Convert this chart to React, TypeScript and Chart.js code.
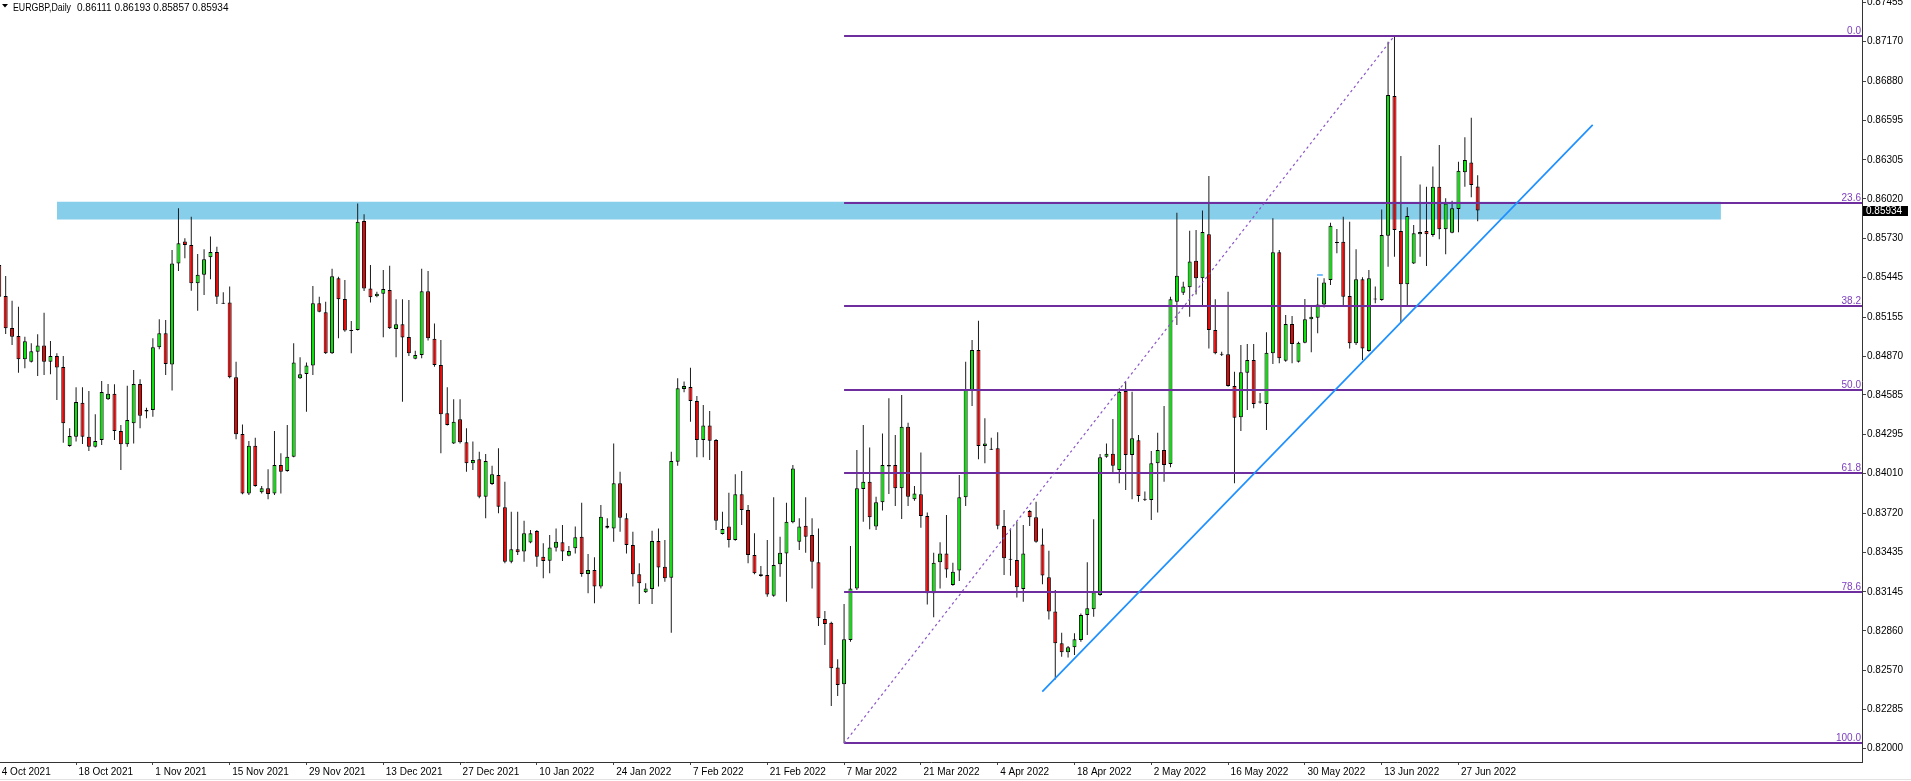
import React, { useEffect, useRef } from 'react';
import { Chart, registerables } from 'chart.js';

Chart.register(...registerables);

const FONT = "'Liberation Sans', Arial, sans-serif";

const symbolTitle = 'EURGBP,Daily';

// Daily bars (Sun..Fri sessions), index 0 = 4 Oct 2021
const opens = [
  0.85536,0.85309,0.85075,0.85017,0.84846,0.84829,0.84902,0.84948,0.84829,0.84870,
  0.84790,0.84212,0.84280,0.84529,0.84280,0.84207,0.84256,0.84553,0.84595,0.84322,
  0.84224,0.84378,0.84665,0.84465,0.84475,0.84934,0.85036,0.84809,0.85548,0.85709,
  0.85683,0.85402,0.85465,0.85592,0.85631,0.85258,0.85261,0.84714,0.84300,0.83865,
  0.84214,0.83873,0.83902,0.83865,0.84073,0.84029,0.84134,0.84707,0.84739,0.84800,
  0.85256,0.85190,0.84890,0.85439,0.85287,0.85058,0.85061,0.85858,0.85365,0.85307,
  0.85326,0.85353,0.85068,0.85102,0.85009,0.84851,0.84878,0.85344,0.84997,0.84805,
  0.84451,0.84231,0.84407,0.84239,0.84085,0.84114,0.83841,0.83934,0.84000,0.83763,
  0.83365,0.83456,0.83439,0.83505,0.83590,0.83402,0.83373,0.83468,0.83507,0.83409,
  0.83463,0.83548,0.83275,0.83305,0.83183,0.83629,0.83609,0.83939,0.83683,0.83487,
  0.83273,0.83141,0.83165,0.83517,0.83329,0.83248,0.84097,0.84629,0.84644,0.84541,
  0.84256,0.84361,0.84256,0.83568,0.83622,0.83524,0.83858,0.83744,0.83414,0.83261,
  0.83268,0.83117,0.83346,0.83426,0.83653,0.83512,0.83628,0.83561,0.83361,0.82946,
  0.82919,0.82592,0.82468,0.82792,0.83170,0.83897,0.83951,0.83622,0.83800,0.84073,
  0.84073,0.83902,0.84353,0.83822,0.83858,0.83700,0.83134,0.83361,0.83426,0.83195,
  0.83300,0.83836,0.84622,0.84914,0.84212,0.84185,0.84195,0.83626,0.83385,0.83378,
  0.83165,0.83736,0.83690,0.83492,0.83251,0.83000,0.82768,0.82702,0.82739,0.82792,
  0.82975,0.83017,0.83122,0.84134,0.84156,0.84036,0.84614,0.84146,0.84253,0.83824,
  0.83817,0.84085,0.84182,0.84080,0.85268,0.85334,0.85373,0.85568,0.85439,0.85761,
  0.85061,0.84885,0.84883,0.84651,0.84422,0.84748,0.84841,0.84537,0.84519,0.84890,
  0.85629,0.84836,0.85104,0.84829,0.84968,0.85139,0.85151,0.85248,0.85426,0.85702,
  0.85707,0.85309,0.84963,0.85431,0.84907,0.85283,0.85280,0.85751,0.86773,0.85785,
  0.85395,0.85548,0.85761,0.85785,0.85756,0.86109,0.85797,0.85773,0.85946,0.86214,
  0.86287,0.86111,
];

const highs = [
  0.85756,0.85456,0.85275,0.85231,0.85012,0.84963,0.85029,0.85187,0.84980,0.84890,
  0.84870,0.84341,0.84641,0.84641,0.84614,0.84444,0.84687,0.84665,0.84663,0.84365,
  0.84653,0.84768,0.84700,0.84492,0.85000,0.85139,0.85134,0.85646,0.85951,0.85731,
  0.85890,0.85617,0.85651,0.85744,0.85670,0.85336,0.85378,0.84829,0.84370,0.84248,
  0.84273,0.83919,0.84041,0.84322,0.84158,0.84365,0.84963,0.84861,0.84822,0.85383,
  0.85304,0.85268,0.85509,0.85451,0.85426,0.85126,0.85987,0.85907,0.85536,0.85341,
  0.85500,0.85531,0.85285,0.85285,0.85280,0.84909,0.85509,0.85492,0.85109,0.84987,
  0.84641,0.84553,0.84553,0.84341,0.84244,0.84170,0.84153,0.84068,0.84195,0.83951,
  0.83731,0.83731,0.83665,0.83597,0.83597,0.83500,0.83561,0.83609,0.83634,0.83480,
  0.83622,0.83797,0.83422,0.83397,0.83780,0.83683,0.84231,0.84024,0.83719,0.83585,
  0.83353,0.83207,0.83592,0.83609,0.83524,0.84170,0.84707,0.84683,0.84785,0.84578,
  0.84512,0.84468,0.84263,0.83731,0.83870,0.84005,0.84029,0.83780,0.83573,0.83334,
  0.83524,0.83836,0.83548,0.83797,0.84073,0.83683,0.83836,0.83683,0.83609,0.83004,
  0.82926,0.82651,0.83056,0.83480,0.84182,0.84365,0.84200,0.83841,0.84304,0.84561,
  0.84292,0.84585,0.84382,0.83919,0.84165,0.83726,0.83431,0.83507,0.83707,0.83358,
  0.84000,0.84829,0.84987,0.85129,0.84414,0.84273,0.84312,0.83743,0.83609,0.83658,
  0.83634,0.83743,0.83804,0.83609,0.83446,0.83158,0.82846,0.82748,0.82841,0.82987,
  0.83361,0.83675,0.84153,0.84231,0.84409,0.84634,0.84682,0.84609,0.84292,0.83878,
  0.84175,0.84309,0.84504,0.85304,0.85919,0.85414,0.85787,0.85792,0.85934,0.86187,
  0.85285,0.84902,0.85341,0.84755,0.84951,0.84958,0.84958,0.84600,0.85044,0.85878,
  0.85646,0.85170,0.85163,0.84975,0.85287,0.85236,0.85444,0.85439,0.85846,0.85800,
  0.85890,0.85853,0.85651,0.85446,0.85500,0.85378,0.85943,0.87170,0.87214,0.86334,
  0.85958,0.85829,0.86126,0.86109,0.86256,0.86414,0.86024,0.86007,0.86292,0.86470,
  0.86614,0.86193,
];

const lows = [
  0.85292,0.85031,0.84951,0.84748,0.84780,0.84822,0.84724,0.84731,0.84736,0.84548,
  0.84236,0.84207,0.84244,0.84226,0.84175,0.84200,0.84219,0.84548,0.84256,0.84036,
  0.84207,0.84231,0.84341,0.84414,0.84426,0.84919,0.84731,0.84617,0.85492,0.85585,
  0.85348,0.85202,0.85317,0.85431,0.85251,0.85251,0.84707,0.84261,0.83858,0.83853,
  0.83914,0.83865,0.83822,0.83853,0.83865,0.84024,0.84129,0.84702,0.84463,0.84731,
  0.85190,0.84885,0.84885,0.85000,0.85048,0.84890,0.85056,0.85346,0.85261,0.85300,
  0.85007,0.85068,0.84861,0.84536,0.84870,0.84846,0.84853,0.84983,0.84792,0.84158,
  0.84361,0.84226,0.84231,0.84024,0.84036,0.83829,0.83683,0.83926,0.83719,0.83353,
  0.83353,0.83414,0.83365,0.83500,0.83329,0.83244,0.83280,0.83439,0.83370,0.83405,
  0.83426,0.83256,0.83134,0.83061,0.83170,0.83609,0.83512,0.83585,0.83426,0.83183,
  0.83056,0.83136,0.83056,0.83183,0.83219,0.82846,0.84068,0.84605,0.84390,0.84129,
  0.84129,0.84109,0.83597,0.83565,0.83470,0.83519,0.83634,0.83353,0.83273,0.83256,
  0.83109,0.83109,0.83256,0.83073,0.83646,0.83451,0.83430,0.83170,0.82895,0.82756,
  0.82309,0.82383,0.82036,0.82780,0.83158,0.83658,0.83602,0.83597,0.83739,0.83861,
  0.83773,0.83678,0.83773,0.83812,0.83614,0.83053,0.82958,0.83170,0.83248,0.83190,
  0.83224,0.83773,0.84504,0.84114,0.84085,0.84182,0.83602,0.83268,0.83263,0.83104,
  0.83073,0.83626,0.83504,0.83200,0.82943,0.82504,0.82670,0.82665,0.82683,0.82780,
  0.82829,0.82963,0.83117,0.84126,0.84017,0.83939,0.83890,0.83822,0.83804,0.83809,
  0.83670,0.83726,0.83951,0.84056,0.85097,0.85317,0.85158,0.85320,0.85244,0.84926,
  0.84883,0.84870,0.84646,0.83939,0.84322,0.84475,0.84488,0.84523,0.84329,0.84812,
  0.84817,0.84829,0.84817,0.84822,0.84963,0.84897,0.85036,0.85226,0.85390,0.85622,
  0.85236,0.84926,0.84951,0.84841,0.84902,0.85256,0.85275,0.85524,0.85597,0.85114,
  0.85236,0.85544,0.85597,0.85529,0.85743,0.85724,0.85614,0.85768,0.85775,0.86109,
  0.86031,0.85857,
];

const closes = [
  0.85304,0.85073,0.85012,0.84846,0.84978,0.84905,0.84948,0.84829,0.84870,0.84787,
  0.84378,0.84285,0.84534,0.84280,0.84207,0.84248,0.84607,0.84595,0.84322,0.84224,
  0.84402,0.84665,0.84434,0.84475,0.84934,0.85036,0.84812,0.85548,0.85695,0.85683,
  0.85402,0.85465,0.85578,0.85631,0.85304,0.85253,0.84714,0.84297,0.83865,0.84214,
  0.83919,0.83902,0.83861,0.84073,0.84024,0.84134,0.84822,0.84736,0.84800,0.85256,
  0.85195,0.84890,0.85453,0.85285,0.85056,0.85053,0.85853,0.85365,0.85300,0.85326,
  0.85361,0.85073,0.85102,0.85005,0.84890,0.84878,0.85344,0.85000,0.84805,0.84444,
  0.84365,0.84390,0.84239,0.84085,0.84109,0.83841,0.84102,0.84005,0.83768,0.83365,
  0.83456,0.83434,0.83573,0.83573,0.83402,0.83370,0.83470,0.83512,0.83439,0.83444,
  0.83544,0.83275,0.83305,0.83183,0.83695,0.83614,0.83939,0.83687,0.83487,0.83273,
  0.83207,0.83170,0.83517,0.83322,0.83244,0.84102,0.84634,0.84651,0.84541,0.84256,
  0.84361,0.84251,0.83665,0.83605,0.83524,0.83858,0.83744,0.83414,0.83280,0.83273,
  0.83126,0.83341,0.83431,0.83658,0.84048,0.83622,0.83548,0.83365,0.82951,0.82909,
  0.82585,0.82463,0.82797,0.83170,0.83902,0.83951,0.83690,0.83800,0.84073,0.84061,
  0.83902,0.84353,0.83841,0.83865,0.83700,0.83134,0.83358,0.83426,0.83309,0.83292,
  0.83836,0.84622,0.84914,0.84212,0.84231,0.84190,0.83629,0.83390,0.83380,0.83178,
  0.83426,0.83690,0.83512,0.83265,0.83000,0.82768,0.82702,0.82739,0.82797,0.82975,
  0.83024,0.83141,0.84129,0.84156,0.84068,0.84609,0.84146,0.84268,0.83846,0.83819,
  0.84085,0.84182,0.84073,0.85285,0.85458,0.85378,0.85561,0.85439,0.85778,0.85061,
  0.84890,0.84880,0.84651,0.84419,0.84751,0.84841,0.84519,0.84530,0.84895,0.85629,
  0.84853,0.85104,0.84958,0.84968,0.85139,0.85158,0.85248,0.85409,0.85824,0.85697,
  0.85304,0.84963,0.85431,0.84926,0.85439,0.85287,0.85756,0.86780,0.85792,0.85395,
  0.85895,0.85768,0.85778,0.85761,0.86109,0.85797,0.85987,0.85951,0.86226,0.86304,
  0.86122,0.85934,
];

// x-axis date labels (bar index of each labelled Monday)
const dateTickBars = [0, 12, 24, 36, 48, 60, 72, 84, 96, 108, 120, 132, 144, 156, 168, 180, 192, 204, 216, 228];
const dateTickLabels = [
  '4 Oct 2021', '18 Oct 2021', '1 Nov 2021', '15 Nov 2021', '29 Nov 2021', '13 Dec 2021',
  '27 Dec 2021', '10 Jan 2022', '24 Jan 2022', '7 Feb 2022', '21 Feb 2022', '7 Mar 2022',
  '21 Mar 2022', '4 Apr 2022', '18 Apr 2022', '2 May 2022', '16 May 2022', '30 May 2022',
  '13 Jun 2022', '27 Jun 2022',
];

// price-axis labels
const priceTicks = [
  0.87455, 0.8717, 0.8688, 0.86595, 0.86305, 0.8602, 0.8573, 0.85445, 0.85155, 0.8487,
  0.84585, 0.84295, 0.8401, 0.8372, 0.83435, 0.83145, 0.8286, 0.8257, 0.82285, 0.82,
];

// Fibonacci retracement (low bar -> high bar)
const fibLowBar = 132;
const fibHighBar = 218;
const fibLow = 0.82036;
const fibHigh = 0.87214;
const fibLevels = [0, 23.6, 38.2, 50, 61.8, 78.6, 100];

// Resistance zone (bars, prices)
const zoneBars = [9.02, 269.0];
const zonePrices = [0.85869, 0.85999];

// Rising trend line
const trendBars = [162.97, 248.97];
const trendPrices = [0.82414, 0.86561];

// tiny stray segment
const stubBars = [205.9, 206.8];
const stubPrices = [0.85463, 0.85463];

// visible ranges
const X_MIN = 0.114;
const X_MAX = 291.05;
const Y_MIN = 0.818997;
const Y_MAX = 0.874751;

const GREEN = '#00E800';
const RED = '#EE0000';

const overlayPlugin = {
  id: 'mtOverlay',
  beforeDatasetsDraw(chart: any) {
    const { ctx, chartArea: a, scales } = chart;
    const x = scales.x, y = scales.y;
    ctx.save();
    ctx.beginPath();
    ctx.rect(a.left, a.top, a.right - a.left, a.bottom - a.top);
    ctx.clip();
    const x0 = x.getPixelForValue(zoneBars[0]);
    const x1 = x.getPixelForValue(zoneBars[1]);
    const y0 = y.getPixelForValue(zonePrices[1]);
    const y1 = y.getPixelForValue(zonePrices[0]);
    ctx.fillStyle = '#87CEEB';
    ctx.fillRect(x0, y0, x1 - x0, y1 - y0);
    ctx.restore();
  },
  afterDatasetsDraw(chart: any) {
    const { ctx, chartArea: a, scales } = chart;
    const x = scales.x, y = scales.y;
    ctx.save();
    ctx.beginPath();
    ctx.rect(a.left, a.top, a.right - a.left, a.bottom - a.top);
    ctx.clip();

    // fib levels
    const xs = x.getPixelForValue(fibLowBar);
    ctx.lineWidth = 2;
    ctx.strokeStyle = '#6E2E9E';
    ctx.font = `10px ${FONT}`;
    ctx.textAlign = 'right';
    ctx.textBaseline = 'alphabetic';
    fibLevels.forEach((lvl) => {
      const price = fibHigh - (lvl / 100) * (fibHigh - fibLow);
      const py = Math.round(y.getPixelForValue(price));
      ctx.beginPath();
      ctx.moveTo(xs, py);
      ctx.lineTo(a.right, py);
      ctx.stroke();
    });
    ctx.fillStyle = '#7D3FC0';
    fibLevels.forEach((lvl) => {
      const price = fibHigh - (lvl / 100) * (fibHigh - fibLow);
      const py = Math.round(y.getPixelForValue(price));
      ctx.fillText(lvl.toFixed(1), a.right - 1, py - 2);
    });

    // dashed diagonal
    ctx.beginPath();
    ctx.setLineDash([2.5, 3]);
    ctx.lineWidth = 1.2;
    ctx.strokeStyle = '#8A55C8';
    ctx.moveTo(x.getPixelForValue(fibLowBar), y.getPixelForValue(fibLow));
    ctx.lineTo(x.getPixelForValue(fibHighBar), y.getPixelForValue(fibHigh));
    ctx.stroke();
    ctx.setLineDash([]);

    // trend line
    ctx.beginPath();
    ctx.lineWidth = 1.7;
    ctx.strokeStyle = '#1E90FF';
    ctx.moveTo(x.getPixelForValue(trendBars[0]), y.getPixelForValue(trendPrices[0]));
    ctx.lineTo(x.getPixelForValue(trendBars[1]), y.getPixelForValue(trendPrices[1]));
    ctx.stroke();

    ctx.beginPath();
    ctx.lineWidth = 1.2;
    ctx.moveTo(x.getPixelForValue(stubBars[0]), y.getPixelForValue(stubPrices[0]));
    ctx.lineTo(x.getPixelForValue(stubBars[1]), y.getPixelForValue(stubPrices[1]));
    ctx.stroke();
    ctx.restore();
  },
  afterDraw(chart: any) {
    const { ctx, scales, width } = chart;
    const y = scales.y;
    const n = closes.length - 1;
    // current price marker
    const py = y.getPixelForValue(closes[n]);
    ctx.save();
    ctx.fillStyle = '#000';
    ctx.fillRect(y.left + 1, Math.round(py) - 5, 45, 10);
    ctx.fillStyle = '#fff';
    ctx.font = `10px ${FONT}`;
    ctx.textAlign = 'left';
    ctx.textBaseline = 'middle';
    ctx.fillText(closes[n].toFixed(5), y.left + 4, Math.round(py));

    // header
    ctx.fillStyle = '#000';
    ctx.beginPath();
    ctx.moveTo(2, 4);
    ctx.lineTo(8, 4);
    ctx.lineTo(5, 7.5);
    ctx.closePath();
    ctx.fill();
    ctx.textBaseline = 'alphabetic';
    ctx.fillText(symbolTitle, 13, 10.5, 58);
    const ohlc = [opens[n], highs[n], lows[n], closes[n]].map((v) => v.toFixed(5)).join(' ');
    ctx.fillText(ohlc, 77, 10.5);

    // window bottom line
    ctx.fillStyle = '#E2E2E2';
    ctx.fillRect(0, 779, width, 1);
    ctx.restore();
  },
};

export default function App() {
  const ref = useRef<HTMLCanvasElement | null>(null);

  useEffect(() => {
    document.body.style.margin = '0';
    const canvas = ref.current;
    if (!canvas) return;
    const idx = opens.map((_, i) => i);
    const bull = opens.map((o, i) => closes[i] >= o);

    const chart = new Chart(canvas, {
      type: 'bar',
      data: {
        datasets: [
          {
            label: 'body',
            data: idx.map((i) => ({ x: i, y: [opens[i], closes[i]] })) as any,
            backgroundColor: bull.map((b) => (b ? GREEN : RED)),
            borderColor: '#000',
            borderWidth: 1,
            borderSkipped: false,
            barThickness: 4,
            grouped: false,
            minBarLength: 1,
            inflateAmount: 0,
            order: 1,
          } as any,
          {
            label: 'wick',
            data: idx.map((i) => ({ x: i, y: [lows[i], highs[i]] })) as any,
            backgroundColor: '#1c1c1c',
            borderWidth: 0,
            barThickness: 1,
            grouped: false,
            inflateAmount: 0,
            order: 2,
          } as any,
        ],
      },
      options: {
        responsive: false,
        animation: false,
        events: [],
        layout: { padding: 0 },
        plugins: { legend: { display: false }, tooltip: { enabled: false } },
        scales: {
          x: {
            type: 'linear',
            position: 'bottom',
            min: X_MIN,
            max: X_MAX,
            offset: false,
            afterBuildTicks: (s: any) => {
              s.ticks = dateTickBars.map((v) => ({ value: v }));
            },
            afterFit: (s: any) => {
              s.height = 19;
              s.paddingLeft = 0;
              s.paddingRight = 0;
            },
            ticks: {
              autoSkip: false,
              maxRotation: 0,
              minRotation: 0,
              align: 'start',
              labelOffset: 2.5,
              padding: 1,
              color: '#000',
              font: { family: FONT, size: 10 },
              callback: (v: any) => {
                const k = dateTickBars.indexOf(Number(v));
                return k >= 0 ? dateTickLabels[k] : '';
              },
            },
            grid: { offset: false, drawOnChartArea: false, drawTicks: true, tickLength: 3, color: '#444', lineWidth: 1 },
            border: { display: true, color: '#333', width: 1 },
          } as any,
          y: {
            type: 'linear',
            position: 'right',
            min: Y_MIN,
            max: Y_MAX,
            beginAtZero: false,
            afterBuildTicks: (s: any) => {
              s.ticks = priceTicks.map((v) => ({ value: v }));
            },
            afterFit: (s: any) => {
              s.width = 49;
              s.paddingTop = 0;
              s.paddingBottom = 0;
            },
            ticks: {
              autoSkip: false,
              padding: 1,
              color: '#000',
              font: { family: FONT, size: 10 },
              callback: (v: any) => Number(v).toFixed(5),
            },
            grid: { drawOnChartArea: false, drawTicks: true, tickLength: 4, color: '#444' },
            border: { display: true, color: '#333', width: 1 },
          } as any,
        },
      },
      plugins: [overlayPlugin],
    });
    return () => chart.destroy();
  }, []);

  return (
    <div style={{ position: 'fixed', left: 0, top: 0, width: 1911, height: 781, background: '#fff' }}>
      <canvas ref={ref} width={1911} height={781} style={{ display: 'block', width: 1911, height: 781 }} />
    </div>
  );
}
